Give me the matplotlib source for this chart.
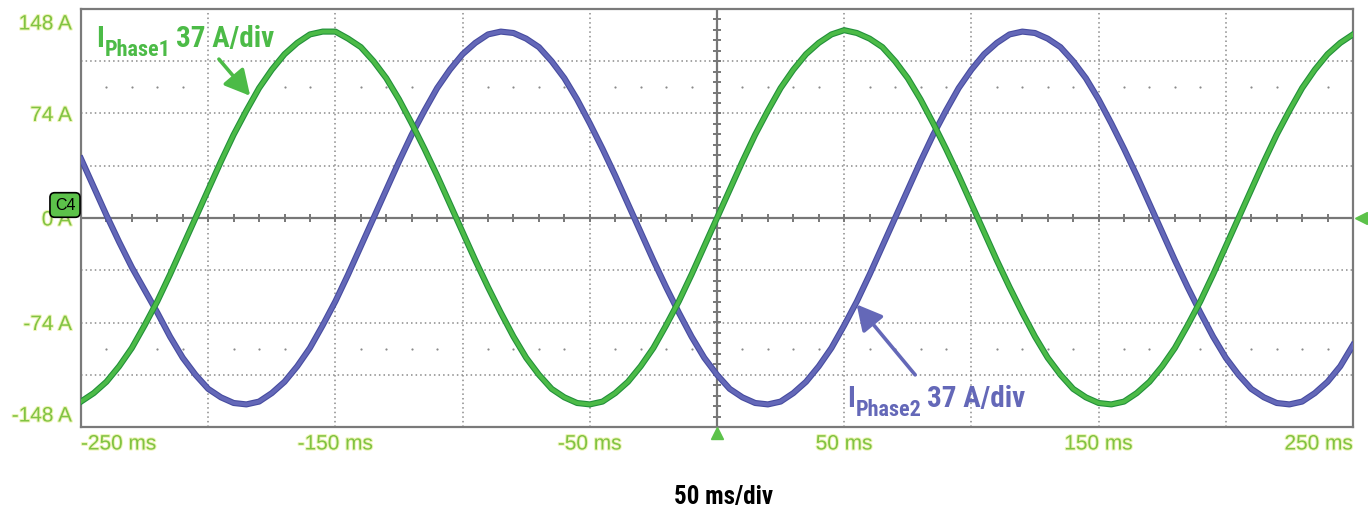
import numpy as np
import matplotlib
matplotlib.use("Agg")
import matplotlib.pyplot as plt
import matplotlib.patheffects as pe
from matplotlib import font_manager


time_ms = list(range(-250, 251, 5))

phase1_a = [
    -130, -124, -116, -105, -92, -76, -59, -40, -20, 0,
    20, 40, 59, 76, 92, 105, 116, 124, 130, 132,
    132, 127, 121, 111, 99, 84, 67, 49, 30, 10,
    -10, -30, -49, -67, -84, -99, -111, -121, -127, -131,
    -132, -130, -124, -116, -105, -92, -76, -59, -40, -20,
    0, 20, 40, 59, 76, 92, 105, 116, 124, 130,
    133, 131, 127, 121, 111, 99, 84, 67, 49, 30,
    10, -10, -30, -49, -67, -84, -99, -111, -121, -127,
    -131, -132, -130, -124, -116, -105, -92, -76, -59, -40,
    -20, 0, 20, 40, 59, 76, 92, 105, 116, 124, 130,
]

phase2_a = [
    42, 22, 2, -17, -35, -51, -67, -84, -99, -111,
    -121, -127, -131, -132, -130, -124, -116, -105, -92, -76,
    -59, -40, -20, 0, 20, 40, 59, 76, 92, 105,
    116, 124, 130, 132, 131, 127, 121, 111, 99, 84,
    67, 49, 30, 10, -10, -30, -49, -67, -84, -99,
    -111, -121, -127, -131, -132, -130, -124, -116, -105, -92,
    -76, -59, -40, -20, 0, 20, 40, 59, 76, 92,
    105, 116, 124, 130, 132, 131, 127, 121, 111, 99,
    84, 67, 49, 30, 10, -10, -30, -49, -67, -84,
    -99, -111, -121, -127, -131, -132, -130, -124, -116, -105, -90,
]

x_ticks = [-250, -150, -50, 50, 150, 250]
x_tick_labels = ["-250 ms", "-150 ms", "-50 ms", "50 ms", "150 ms", "250 ms"]
y_ticks = [148, 74, 0, -74, -148]
y_tick_labels = ["148 A", "74 A", "0 A", "-74 A", "-148 A"]

GREEN = "#4cbb47"
GREEN_EDGE = "#22903a"
BLUE = "#6468b8"
BLUE_EDGE = "#474ca0"
LABEL_GREEN = "#80c342"
GRID = "#8a8a8a"

# pick the narrowest bold family that is installed
installed = {f.name for f in font_manager.fontManager.ttflist}
NARROW = "DejaVu Sans"
for name in ["Liberation Sans Narrow", "Roboto Condensed", "Open Sans Condensed", "Roboto"]:
    if name in installed:
        NARROW = name
        break
NARROW_FAMILY = [NARROW, "DejaVu Sans"]

fig = plt.figure(figsize=(13.68, 5.12), dpi=100)
ax = fig.add_axes([81 / 1368, 1 - 427 / 512, 1272 / 1368, 418 / 512])
ax.set_xlim(-250, 250)
ax.set_ylim(-148, 148)

# scope graticule: dotted divisions, solid centre axes with minor ticks
ax.set_xticks(np.arange(-250, 251, 50))
ax.set_yticks(np.arange(-148, 149, 37))
ax.grid(True, linestyle=(0, (1, 2)), color=GRID, linewidth=1.1)
ax.tick_params(length=0, labelbottom=False, labelleft=False)
for spine in ax.spines.values():
    spine.set_color("#7a7a7a")
    spine.set_linewidth(1.6)

ax.axhline(0, color="#777777", linewidth=1.6, zorder=2)
ax.axvline(0, color="#777777", linewidth=1.6, zorder=2)
ax.vlines(np.arange(-240, 250, 10), -2.8, 2.8, color="#777777", linewidth=1.4, zorder=2)
ax.hlines(np.arange(-148, 149, 7.4), -1.6, 1.6, color="#777777", linewidth=1.4, zorder=2)

dot_x = [v for v in range(-240, 250, 10) if v % 50 != 0]
for yy in (92.5, -92.5):
    ax.scatter(dot_x, [yy] * len(dot_x), s=2.5, color=GRID, linewidths=0, zorder=2)

# traces
ax.plot(time_ms, phase2_a, color=BLUE, linewidth=2.8, zorder=3,
        path_effects=[pe.Stroke(linewidth=4.4, foreground=BLUE_EDGE), pe.Normal()])
ax.plot(time_ms, phase1_a, color=GREEN, linewidth=2.8, zorder=4,
        path_effects=[pe.Stroke(linewidth=4.4, foreground=GREEN_EDGE), pe.Normal()])

# axis labels drawn like the scope does (edge labels pulled inside)
glow = [pe.withStroke(linewidth=1.5, foreground="#eef4b8")]
for val, lab in zip(y_ticks, y_tick_labels):
    dy = -13 if val == 148 else (13 if val == -148 else 0)
    ax.annotate(lab, xy=(-250, val), xytext=(-9, dy - 2), textcoords="offset pixels",
                ha="right", va="center", fontsize=15, color=LABEL_GREEN,
                family="Liberation Sans", annotation_clip=False, path_effects=glow)

for val, lab in zip(x_ticks, x_tick_labels):
    ha = "left" if val == -250 else ("right" if val == 250 else "center")
    ax.annotate(lab, xy=(val, -148), xytext=(0, -17), textcoords="offset pixels",
                ha=ha, va="center", fontsize=15, color=LABEL_GREEN,
                family="Liberation Sans", annotation_clip=False, path_effects=glow)

# channel marker and trigger arrows
fig.text(65 / 1368, 1 - 205 / 512, "C4", ha="center", va="center", fontsize=11.5,
         family="Liberation Sans", color="black",
         bbox=dict(boxstyle="round,pad=0.3,rounding_size=0.3", fc="#5cc24a", ec="black", lw=1.2))
ax.plot([0], [-152], marker="^", markersize=8, color="#5cc24a", clip_on=False, zorder=5)
ax.plot([253], [0], marker="<", markersize=8, color="#5cc24a", clip_on=False, zorder=5)


def channel_label(x, y, sub, color):
    t_i = ax.text(x, y, "I", fontsize=21, fontweight="bold", family=NARROW_FAMILY,
                  color=color, va="baseline", zorder=6)
    t_sub = ax.annotate(sub, xy=(1, 0), xycoords=t_i, xytext=(1, -8),
                        textcoords="offset pixels", fontsize=16, fontweight="bold",
                        family=NARROW_FAMILY, color=color, va="bottom", zorder=6)
    ax.annotate("37 A/div", xy=(1, 0), xycoords=t_sub, xytext=(5, 8),
                textcoords="offset pixels", fontsize=21, fontweight="bold",
                family=NARROW_FAMILY, color=color, va="bottom", zorder=6)


channel_label(-244, 121, "Phase1", GREEN)
channel_label(51.1, -133.8, "Phase2", BLUE)

ax.annotate("", xy=(-182.8, 85), xytext=(-196.5, 114),
            arrowprops=dict(arrowstyle="-|>,head_length=0.85,head_width=0.45",
                            color=GREEN, lw=2.6, mutation_scale=18), zorder=6)
ax.annotate("", xy=(54.2, -59.7), xytext=(78.6, -112.6),
            arrowprops=dict(arrowstyle="-|>,head_length=0.85,head_width=0.45",
                            color=BLUE, lw=2.6, mutation_scale=18), zorder=6)

fig.text(724 / 1368, 1 - 497 / 512, "50 ms/div", ha="center", va="center",
         fontsize=18, fontweight="bold", family=NARROW_FAMILY, color="black")

fig.savefig("out.png", dpi=100, facecolor="white")
